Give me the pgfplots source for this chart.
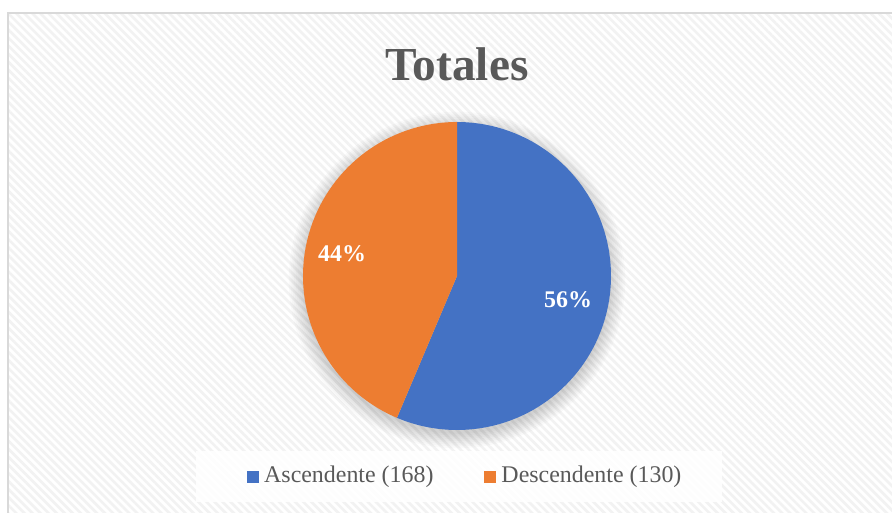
\documentclass[border=0pt]{standalone}
\usepackage{pgfplots}
\pgfplotsset{compat=1.18}
\usepackage{fontspec}
\setmainfont{Liberation Serif}
\usetikzlibrary{patterns.meta}
\definecolor{myblue}{HTML}{4472C4}
\definecolor{myorange}{HTML}{ED7D31}
\definecolor{txtgray}{HTML}{595959}
\definecolor{bordergray}{HTML}{D9D9D9}
\def\vA{168}
\def\vB{130}
\pgfmathsetmacro\angA{\vA/(\vA+\vB)*360}
\pgfmathsetmacro\endA{90-\angA}
\begin{document}
\begin{tikzpicture}
\useasboundingbox (0,0) rectangle (892bp,513bp);
\clip (0,0) rectangle (892bp,513bp);
\begin{axis}[
  at={(0,0)}, anchor=south west,
  scale only axis, width=892bp, height=513bp,
  xmin=0, xmax=892, ymin=0, ymax=513,
  hide axis, clip=false,
  legend columns=2,
  legend style={at={(0.2769,0.0735)}, anchor=west, draw=none, fill=none,
    inner sep=0pt, nodes={inner sep=0pt},
    font=\fontsize{24}{27}\selectfont, text=txtgray,
    /tikz/every odd column/.append style={column sep=5bp},
    /tikz/every even column/.append style={column sep=51bp}},
  legend image code/.code={\fill[#1] (0bp,-8bp) rectangle (12bp,4bp);},
]
% background
\fill[white] (0,0) rectangle (892,513);
\fill[pattern={Lines[angle=-45,distance=5.7bp,line width=2.6bp]}, pattern color=black!5] (8,0) rectangle (892,500);
\draw[bordergray, line width=1.8bp] (8,-5) -- (8,500) -- (900,500);
% title
\node[font=\bfseries\fontsize{47.5}{52}\selectfont, text=txtgray] at (457,449) {Totales};
% shadow
\pgfplotsinvokeforeach{1,...,9}{
  \fill[black, opacity=0.018] (457,233) circle[radius=152+1.8*#1];
}
% pie
\addplot[fill=myblue, draw=none, domain=\endA:90, samples=120]
  ({457+154*cos(x)},{237+154*sin(x)}) -- (457,237) -- cycle;
\addlegendentry{Ascendente (168)}
\addplot[fill=myorange, draw=none, domain=-270:\endA, samples=120]
  ({457+154*cos(x)},{237+154*sin(x)}) -- (457,237) -- cycle;
\addlegendentry{Descendente (130)}
% labels
\node[font=\bfseries\fontsize{24}{27}\selectfont, text=white] at (568,213) {56\%};
\node[font=\bfseries\fontsize{24}{27}\selectfont, text=white] at (342,259) {44\%};
% legend box
\fill[white, opacity=0.85] (196,11) rectangle (722,62);
\end{axis}
\end{tikzpicture}
\end{document}
